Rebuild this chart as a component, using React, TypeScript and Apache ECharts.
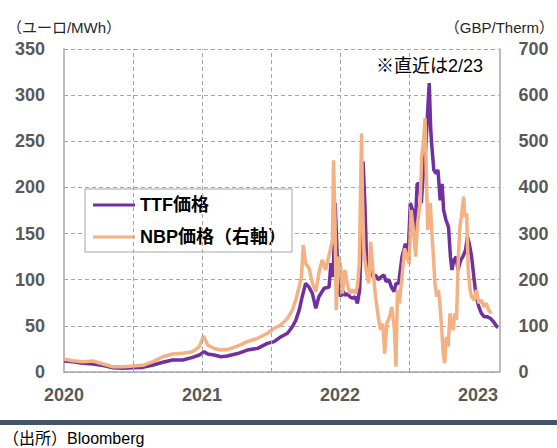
import React, { useEffect, useRef } from "react";
import * as echarts from "echarts";

const ttfDates = [
  "2020-01-01","2020-01-25","2020-02-20","2020-03-18","2020-04-14","2020-05-10","2020-06-05","2020-07-02","2020-07-28","2020-08-24","2020-09-19","2020-10-15","2020-11-11","2020-12-07","2020-12-25",
  "2021-01-07","2021-01-16","2021-02-02","2021-02-20","2021-03-09","2021-04-05","2021-05-01","2021-05-28","2021-06-23","2021-07-11","2021-07-28","2021-08-15","2021-08-28","2021-09-06","2021-09-15","2021-09-23","2021-10-02","2021-10-11","2021-10-20","2021-10-29","2021-11-06","2021-11-20","2021-12-03","2021-12-08","2021-12-14","2021-12-19","2021-12-22","2021-12-28",
  "2022-01-03","2022-01-07","2022-01-14","2022-01-20","2022-01-27","2022-02-03","2022-02-10","2022-02-16","2022-02-22","2022-02-27","2022-03-03","2022-03-08","2022-03-12","2022-03-16","2022-03-23","2022-03-29","2022-04-05","2022-04-12","2022-04-19","2022-04-27","2022-05-03","2022-05-10","2022-05-17","2022-05-24","2022-05-29","2022-06-05","2022-06-14","2022-06-23","2022-06-30","2022-07-06","2022-07-12","2022-07-18","2022-07-24","2022-07-30","2022-08-04","2022-08-10","2022-08-16","2022-08-21","2022-08-25","2022-08-29","2022-09-01","2022-09-06","2022-09-12","2022-09-17","2022-09-23","2022-09-28","2022-10-02","2022-10-08","2022-10-15","2022-10-20","2022-10-24","2022-10-29","2022-11-04","2022-11-09","2022-11-16","2022-11-22","2022-11-29","2022-12-04","2022-12-09","2022-12-15","2022-12-21","2022-12-27",
  "2023-01-03","2023-01-10","2023-01-17","2023-01-25","2023-02-03","2023-02-11","2023-02-20","2023-02-23",
];
const ttfValues = [
  12, 11.2, 9.4, 8.7, 6.9, 4.7, 4.0, 4.7, 5.0, 7.6, 10.5, 13, 13, 15.9, 18.4,
  22, 19.5, 18.4, 16.6, 17.3, 20, 23.8, 25.6, 31, 32.9, 38, 42, 49, 56, 67, 81.6, 96, 92, 85, 69, 81.6, 90.7, 92, 118, 103, 183, 154, 89,
  81.6, 89, 83, 85, 81.6, 80, 81.6, 74.4, 89, 154, 228, 179, 125, 103, 114, 103, 105, 100, 103, 105, 98, 100, 92, 87, 96, 96, 125, 139, 125, 183, 175.5, 146.6, 204, 204, 183, 219, 244, 284, 313, 262, 244, 219, 215, 219, 186, 204, 175.5, 165, 157, 125, 110.5, 121, 125, 110.5, 121, 125, 132, 146.6, 139, 125, 103, 81.6,
  70.8, 63.6, 60, 60, 58, 54.5, 49, 48.4,
];

const nbpDates = [
  "2020-01-01","2020-01-25","2020-02-20","2020-03-18","2020-04-14","2020-05-10","2020-06-05","2020-07-02","2020-07-28","2020-08-24","2020-09-19","2020-10-15","2020-11-11","2020-12-07","2020-12-25",
  "2021-01-05","2021-01-16","2021-02-02","2021-02-20","2021-03-09","2021-04-05","2021-05-01","2021-05-28","2021-06-23","2021-07-11","2021-07-28","2021-08-15","2021-08-28","2021-09-06","2021-09-15","2021-09-21","2021-09-26","2021-10-02","2021-10-11","2021-10-20","2021-10-29","2021-11-06","2021-11-15","2021-11-24","2021-12-03","2021-12-12","2021-12-15","2021-12-19","2021-12-22","2021-12-28",
  "2022-01-03","2022-01-07","2022-01-14","2022-01-20","2022-01-27","2022-02-03","2022-02-10","2022-02-16","2022-02-21","2022-02-27","2022-03-01","2022-03-05","2022-03-11","2022-03-18","2022-03-23","2022-03-29","2022-04-05","2022-04-12","2022-04-18","2022-04-24","2022-04-29","2022-05-05","2022-05-12","2022-05-18","2022-05-25","2022-05-29","2022-06-02","2022-06-07","2022-06-14","2022-06-21","2022-06-27","2022-07-03","2022-07-08","2022-07-14","2022-07-20","2022-07-25","2022-08-01","2022-08-05","2022-08-10","2022-08-14","2022-08-17","2022-08-21","2022-08-24","2022-08-28","2022-08-31","2022-09-05","2022-09-09","2022-09-14","2022-09-18","2022-09-22","2022-09-26","2022-10-01","2022-10-05","2022-10-09","2022-10-14","2022-10-19","2022-10-23","2022-10-27","2022-11-01","2022-11-05","2022-11-10","2022-11-14","2022-11-18","2022-11-24","2022-11-27","2022-12-02","2022-12-06","2022-12-11","2022-12-15","2022-12-22","2022-12-28",
  "2023-01-03","2023-01-10","2023-01-17","2023-01-23","2023-01-29","2023-02-05",
];
const nbpValues = [
  27.5, 24.5, 22.4, 23.8, 17.3, 11.5, 11.5, 13, 14.5, 22.4, 33, 39, 40.5, 44, 55,
  78, 58.5, 51, 47.7, 48.5, 56, 65.7, 73, 84, 94.7, 102, 116, 134, 156, 185, 206, 275, 235, 225, 192, 174, 214, 243, 221, 253, 286, 459, 323, 134, 250,
  228, 170, 221, 192, 170, 178, 170, 185, 235, 517, 394, 264, 221, 192, 282, 221, 163, 120, 91, 105, 40, 105, 120, 141, 91, 11.5, 178, 149, 206, 268, 250, 235, 351, 308, 250, 322, 366, 467, 503, 550, 438, 308, 351, 366, 315, 250, 192, 163, 178, 149, 105, 40.5, 19, 76, 55, 127, 105, 91, 127, 113, 250, 315, 336, 380, 336, 344, 221, 178, 163, 156, 178,
  149, 156, 141, 149, 134, 127,
];

const gridYears = [2020.5, 2021, 2021.5, 2022, 2022.5];
const leftTicks = { min: 0, max: 350, interval: 50 };
const rightTicks = { min: 0, max: 700, interval: 100 };
const seriesNames = ["TTF価格", "NBP価格（右軸）"];

function toYear(d: string): number {
  const [y, m, dd] = d.split("-").map(Number);
  const start = Date.UTC(y, 0, 1);
  const end = Date.UTC(y + 1, 0, 1);
  return y + (Date.UTC(y, m - 1, dd) - start) / (end - start);
}

const FONT = "'Liberation Sans', 'Noto Sans CJK JP', sans-serif";
const GRID_COLOR = "#A6A6A6";

export default function App() {
  const ref = useRef<HTMLDivElement>(null);
  useEffect(() => {
    if (!ref.current) return;
    const chart = echarts.init(ref.current, undefined, { renderer: "svg" });
    const axisLabel = { fontSize: 18, fontWeight: "bold", color: "#595959", fontFamily: FONT };
    chart.setOption({
      animation: false,
      grid: { left: 64, right: 56, top: 49, bottom: 76 },
      legend: {
        data: seriesNames,
        orient: "vertical",
        left: 85,
        top: 189,
        padding: [7, 6, 6, 8],
        itemGap: 14,
        itemWidth: 42,
        itemHeight: 3,
        icon: "rect",
        backgroundColor: "#fff",
        borderColor: GRID_COLOR,
        borderWidth: 1,
        borderRadius: 0,
        textStyle: { fontSize: 18, fontWeight: "bold", color: "#000", fontFamily: FONT },
      },
      xAxis: {
        type: "value",
        min: 2020,
        max: 2023.155,
        interval: 1,
        axisLine: { show: true, lineStyle: { color: GRID_COLOR, width: 1.5 } },
        axisTick: { show: false },
        splitLine: { show: false },
        axisLabel: {
          ...axisLabel,
          margin: 14,
          formatter: (v: number) => (Math.abs(v - Math.round(v)) < 1e-6 ? String(Math.round(v)) : ""),
        },
      },
      yAxis: [
        {
          type: "value",
          ...leftTicks,
          name: "（ユーロ/MWh）",
          nameLocation: "end",
          nameGap: 14,
          nameTextStyle: { fontSize: 15, color: "#262626", fontFamily: FONT },
          axisLine: { show: true, lineStyle: { color: GRID_COLOR, width: 1.5 } },
          axisTick: { show: false },
          axisLabel: { ...axisLabel, margin: 19 },
          splitLine: { show: true, lineStyle: { type: [4, 3], color: GRID_COLOR, width: 1 } },
        },
        {
          type: "value",
          ...rightTicks,
          name: "（GBP/Therm）",
          nameLocation: "end",
          nameGap: 14,
          nameTextStyle: { fontSize: 15, color: "#262626", fontFamily: FONT },
          axisLine: { show: true, lineStyle: { color: GRID_COLOR, width: 1.5 } },
          axisTick: { show: false },
          axisLabel: { ...axisLabel, margin: 19 },
          splitLine: { show: false },
        },
      ],
      series: [
        {
          type: "line",
          data: [],
          silent: true,
          z: 1,
          markLine: {
            silent: true,
            symbol: "none",
            label: { show: false },
            lineStyle: { type: [4, 3], color: GRID_COLOR, width: 1 },
            data: gridYears.map((v) => ({ xAxis: v })),
          },
        },
        {
          name: seriesNames[0],
          type: "line",
          data: ttfDates.map((d, i) => [toYear(d), ttfValues[i]]),
          showSymbol: false,
          symbol: "none",
          color: "#7030A0",
          lineStyle: { width: 3.5, color: "#7030A0" },
          z: 3,
        },
        {
          name: seriesNames[1],
          type: "line",
          yAxisIndex: 1,
          data: nbpDates.map((d, i) => [toYear(d), nbpValues[i]]),
          showSymbol: false,
          symbol: "none",
          color: "#F4B183",
          lineStyle: { width: 3.5, color: "#F4B183" },
          z: 4,
        },
      ],
      graphic: [
        {
          type: "text",
          left: 376,
          top: 57,
          style: { text: "※直近は2/23", fontSize: 18, fill: "#000", fontFamily: FONT },
          z: 10,
        },
        {
          type: "rect",
          left: 0,
          top: 420,
          shape: { width: 557, height: 5 },
          style: { fill: "#44546A" },
        },
        {
          type: "text",
          left: 3,
          top: 430,
          style: { text: "（出所）Bloomberg", fontSize: 16, fill: "#000", fontFamily: FONT },
        },
      ],
    });
    return () => chart.dispose();
  }, []);
  return (
    <div
      ref={ref}
      style={{ position: "fixed", left: 0, top: 0, width: 557, height: 448, background: "#fff" }}
    />
  );
}
